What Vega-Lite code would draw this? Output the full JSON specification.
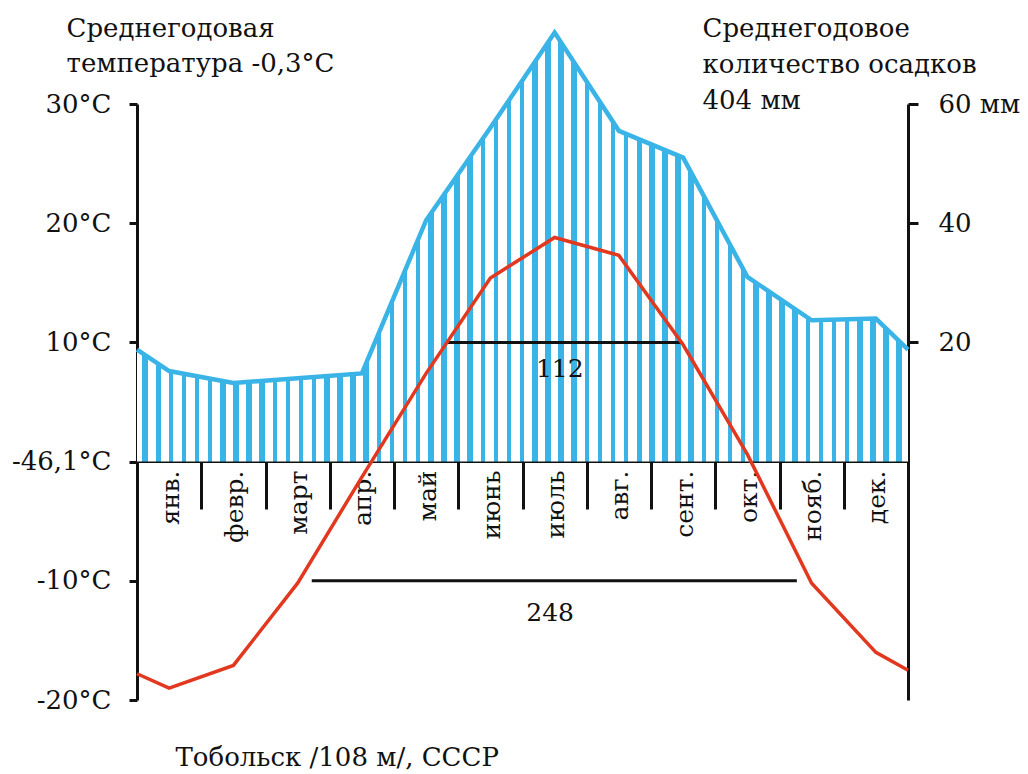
{
  "$schema": "https://vega.github.io/schema/vega-lite/v6.json",
  "width": 771,
  "height": 596,
  "autosize": {"type": "none"},
  "padding": {"left": 137, "top": 104, "right": 120, "bottom": 74},
  "background": "#ffffff",
  "config": {
    "view": {"stroke": null},
    "font": "DejaVu Serif",
    "axis": {
      "grid": false,
      "zindex": 1,
      "domainColor": "#111111",
      "domainWidth": 3,
      "tickColor": "#111111",
      "tickWidth": 3,
      "labelColor": "#111111",
      "labelFont": "DejaVu Serif",
      "titleFont": "DejaVu Serif",
      "titleColor": "#111111",
      "titleFontWeight": "normal"
    }
  },
  "datasets": {
    "temperature": [
      {"m": 0, "temp": -17.8},
      {"m": 0.5, "temp": -19.0},
      {"m": 1.5, "temp": -17.1},
      {"m": 2.5, "temp": -10.2},
      {"m": 3.5, "temp": -1.3},
      {"m": 4.5, "temp": 7.4},
      {"m": 5.5, "temp": 15.4},
      {"m": 6.5, "temp": 18.8},
      {"m": 7.5, "temp": 17.3},
      {"m": 8.5, "temp": 9.8},
      {"m": 9.5, "temp": 0.6},
      {"m": 10.5, "temp": -10.2},
      {"m": 11.5, "temp": -16.0},
      {"m": 12, "temp": -17.5}
    ],
    "precipitation": [
      {"m": 0, "precip": 18.8},
      {"m": 0.5, "precip": 15.2},
      {"m": 1.5, "precip": 13.2},
      {"m": 2.5, "precip": 14.0},
      {"m": 3.5, "precip": 14.8},
      {"m": 4.5, "precip": 40.5},
      {"m": 5.5, "precip": 56.0},
      {"m": 6.5, "precip": 72.0},
      {"m": 7.5, "precip": 55.5},
      {"m": 8.5, "precip": 51.0},
      {"m": 9.5, "precip": 31.0},
      {"m": 10.5, "precip": 23.7},
      {"m": 11.5, "precip": 24.0},
      {"m": 12, "precip": 18.8}
    ],
    "periods": [
      {"m": 4.82, "m2": 8.48, "temp": 10},
      {"m": 2.72, "m2": 10.27, "temp": -10}
    ],
    "periodLabels": [
      {"m": 6.58, "temp": 7.8, "label": "112"},
      {"m": 6.43, "temp": -12.7, "label": "248"}
    ]
  },
  "encoding": {
    "x": {
      "field": "m",
      "type": "quantitative",
      "scale": {"domain": [0, 12], "nice": false, "zero": false},
      "axis": {
        "values": [0, 1, 2, 3, 4, 5, 6, 7, 8, 9, 10, 11, 12],
        "labelExpr": "['янв.','февр.','март','апр.','май','июнь','июль','авг.','сент.','окт.','нояб.','дек.',''][datum.value]",
        "labelAngle": -90,
        "labelOffset": 33,
        "labelPadding": -39,
        "labelFontSize": 25,
        "labelOverlap": false,
        "labelFlush": false,
        "labelBound": false,
        "tickSize": 48,
        "offset": -239,
        "title": "Тобольск /108 м/, СССР",
        "titleFontSize": 26,
        "titleAlign": "left",
        "titleBaseline": "alphabetic",
        "titleAngle": 0,
        "titleX": 38,
        "titleY": 304
      }
    }
  },
  "layer": [
    {
      "encoding": {
        "y": {
          "field": "precip",
          "type": "quantitative",
          "scale": {"domain": [-40, 60], "nice": false, "zero": false},
          "axis": {
            "orient": "right",
            "values": [20, 40, 60],
            "labelExpr": "datum.value == 60 ? '60 мм' : datum.label",
            "labelFontSize": 26,
            "labelPadding": 20,
            "tickSize": 10,
            "title": ["Среднегодовое", "количество осадков", "404 мм"],
            "titleFontSize": 26,
            "titleAngle": 0,
            "titleAlign": "left",
            "titleBaseline": "alphabetic",
            "titleLineHeight": 36,
            "titleX": -206,
            "titleY": -68
          }
        }
      },
      "layer": [
        {
          "data": {"name": "precipitation"},
          "mark": {
            "type": "area",
            "color": {
              "gradient": "linear",
              "x1": 0, "y1": 0, "x2": 1, "y2": 0,
              "stops": [
                {"offset": 0, "color": "#ffffff"},
                {"offset": 0.00713, "color": "#ffffff"}, {"offset": 0.00713, "color": "#3ab4e6"}, {"offset": 0.01362, "color": "#3ab4e6"}, {"offset": 0.01362, "color": "#ffffff"},
                {"offset": 0.02400, "color": "#ffffff"}, {"offset": 0.02400, "color": "#3ab4e6"}, {"offset": 0.03048, "color": "#3ab4e6"}, {"offset": 0.03048, "color": "#ffffff"},
                {"offset": 0.04086, "color": "#ffffff"}, {"offset": 0.04086, "color": "#3ab4e6"}, {"offset": 0.04734, "color": "#3ab4e6"}, {"offset": 0.04734, "color": "#ffffff"},
                {"offset": 0.05772, "color": "#ffffff"}, {"offset": 0.05772, "color": "#3ab4e6"}, {"offset": 0.06420, "color": "#3ab4e6"}, {"offset": 0.06420, "color": "#ffffff"},
                {"offset": 0.07458, "color": "#ffffff"}, {"offset": 0.07458, "color": "#3ab4e6"}, {"offset": 0.08106, "color": "#3ab4e6"}, {"offset": 0.08106, "color": "#ffffff"},
                {"offset": 0.09144, "color": "#ffffff"}, {"offset": 0.09144, "color": "#3ab4e6"}, {"offset": 0.09792, "color": "#3ab4e6"}, {"offset": 0.09792, "color": "#ffffff"},
                {"offset": 0.10830, "color": "#ffffff"}, {"offset": 0.10830, "color": "#3ab4e6"}, {"offset": 0.11479, "color": "#3ab4e6"}, {"offset": 0.11479, "color": "#ffffff"},
                {"offset": 0.12516, "color": "#ffffff"}, {"offset": 0.12516, "color": "#3ab4e6"}, {"offset": 0.13165, "color": "#3ab4e6"}, {"offset": 0.13165, "color": "#ffffff"},
                {"offset": 0.14202, "color": "#ffffff"}, {"offset": 0.14202, "color": "#3ab4e6"}, {"offset": 0.14851, "color": "#3ab4e6"}, {"offset": 0.14851, "color": "#ffffff"},
                {"offset": 0.15888, "color": "#ffffff"}, {"offset": 0.15888, "color": "#3ab4e6"}, {"offset": 0.16537, "color": "#3ab4e6"}, {"offset": 0.16537, "color": "#ffffff"},
                {"offset": 0.17575, "color": "#ffffff"}, {"offset": 0.17575, "color": "#3ab4e6"}, {"offset": 0.18223, "color": "#3ab4e6"}, {"offset": 0.18223, "color": "#ffffff"},
                {"offset": 0.19261, "color": "#ffffff"}, {"offset": 0.19261, "color": "#3ab4e6"}, {"offset": 0.19909, "color": "#3ab4e6"}, {"offset": 0.19909, "color": "#ffffff"},
                {"offset": 0.20947, "color": "#ffffff"}, {"offset": 0.20947, "color": "#3ab4e6"}, {"offset": 0.21595, "color": "#3ab4e6"}, {"offset": 0.21595, "color": "#ffffff"},
                {"offset": 0.22633, "color": "#ffffff"}, {"offset": 0.22633, "color": "#3ab4e6"}, {"offset": 0.23281, "color": "#3ab4e6"}, {"offset": 0.23281, "color": "#ffffff"},
                {"offset": 0.24319, "color": "#ffffff"}, {"offset": 0.24319, "color": "#3ab4e6"}, {"offset": 0.24968, "color": "#3ab4e6"}, {"offset": 0.24968, "color": "#ffffff"},
                {"offset": 0.26005, "color": "#ffffff"}, {"offset": 0.26005, "color": "#3ab4e6"}, {"offset": 0.26654, "color": "#3ab4e6"}, {"offset": 0.26654, "color": "#ffffff"},
                {"offset": 0.27691, "color": "#ffffff"}, {"offset": 0.27691, "color": "#3ab4e6"}, {"offset": 0.28340, "color": "#3ab4e6"}, {"offset": 0.28340, "color": "#ffffff"},
                {"offset": 0.29377, "color": "#ffffff"}, {"offset": 0.29377, "color": "#3ab4e6"}, {"offset": 0.30026, "color": "#3ab4e6"}, {"offset": 0.30026, "color": "#ffffff"},
                {"offset": 0.31064, "color": "#ffffff"}, {"offset": 0.31064, "color": "#3ab4e6"}, {"offset": 0.31712, "color": "#3ab4e6"}, {"offset": 0.31712, "color": "#ffffff"},
                {"offset": 0.32750, "color": "#ffffff"}, {"offset": 0.32750, "color": "#3ab4e6"}, {"offset": 0.33398, "color": "#3ab4e6"}, {"offset": 0.33398, "color": "#ffffff"},
                {"offset": 0.34436, "color": "#ffffff"}, {"offset": 0.34436, "color": "#3ab4e6"}, {"offset": 0.35084, "color": "#3ab4e6"}, {"offset": 0.35084, "color": "#ffffff"},
                {"offset": 0.36122, "color": "#ffffff"}, {"offset": 0.36122, "color": "#3ab4e6"}, {"offset": 0.36770, "color": "#3ab4e6"}, {"offset": 0.36770, "color": "#ffffff"},
                {"offset": 0.37808, "color": "#ffffff"}, {"offset": 0.37808, "color": "#3ab4e6"}, {"offset": 0.38457, "color": "#3ab4e6"}, {"offset": 0.38457, "color": "#ffffff"},
                {"offset": 0.39494, "color": "#ffffff"}, {"offset": 0.39494, "color": "#3ab4e6"}, {"offset": 0.40143, "color": "#3ab4e6"}, {"offset": 0.40143, "color": "#ffffff"},
                {"offset": 0.41180, "color": "#ffffff"}, {"offset": 0.41180, "color": "#3ab4e6"}, {"offset": 0.41829, "color": "#3ab4e6"}, {"offset": 0.41829, "color": "#ffffff"},
                {"offset": 0.42866, "color": "#ffffff"}, {"offset": 0.42866, "color": "#3ab4e6"}, {"offset": 0.43515, "color": "#3ab4e6"}, {"offset": 0.43515, "color": "#ffffff"},
                {"offset": 0.44553, "color": "#ffffff"}, {"offset": 0.44553, "color": "#3ab4e6"}, {"offset": 0.45201, "color": "#3ab4e6"}, {"offset": 0.45201, "color": "#ffffff"},
                {"offset": 0.46239, "color": "#ffffff"}, {"offset": 0.46239, "color": "#3ab4e6"}, {"offset": 0.46887, "color": "#3ab4e6"}, {"offset": 0.46887, "color": "#ffffff"},
                {"offset": 0.47925, "color": "#ffffff"}, {"offset": 0.47925, "color": "#3ab4e6"}, {"offset": 0.48573, "color": "#3ab4e6"}, {"offset": 0.48573, "color": "#ffffff"},
                {"offset": 0.49611, "color": "#ffffff"}, {"offset": 0.49611, "color": "#3ab4e6"}, {"offset": 0.50259, "color": "#3ab4e6"}, {"offset": 0.50259, "color": "#ffffff"},
                {"offset": 0.51297, "color": "#ffffff"}, {"offset": 0.51297, "color": "#3ab4e6"}, {"offset": 0.51946, "color": "#3ab4e6"}, {"offset": 0.51946, "color": "#ffffff"},
                {"offset": 0.52983, "color": "#ffffff"}, {"offset": 0.52983, "color": "#3ab4e6"}, {"offset": 0.53632, "color": "#3ab4e6"}, {"offset": 0.53632, "color": "#ffffff"},
                {"offset": 0.54669, "color": "#ffffff"}, {"offset": 0.54669, "color": "#3ab4e6"}, {"offset": 0.55318, "color": "#3ab4e6"}, {"offset": 0.55318, "color": "#ffffff"},
                {"offset": 0.56355, "color": "#ffffff"}, {"offset": 0.56355, "color": "#3ab4e6"}, {"offset": 0.57004, "color": "#3ab4e6"}, {"offset": 0.57004, "color": "#ffffff"},
                {"offset": 0.58042, "color": "#ffffff"}, {"offset": 0.58042, "color": "#3ab4e6"}, {"offset": 0.58690, "color": "#3ab4e6"}, {"offset": 0.58690, "color": "#ffffff"},
                {"offset": 0.59728, "color": "#ffffff"}, {"offset": 0.59728, "color": "#3ab4e6"}, {"offset": 0.60376, "color": "#3ab4e6"}, {"offset": 0.60376, "color": "#ffffff"},
                {"offset": 0.61414, "color": "#ffffff"}, {"offset": 0.61414, "color": "#3ab4e6"}, {"offset": 0.62062, "color": "#3ab4e6"}, {"offset": 0.62062, "color": "#ffffff"},
                {"offset": 0.63100, "color": "#ffffff"}, {"offset": 0.63100, "color": "#3ab4e6"}, {"offset": 0.63748, "color": "#3ab4e6"}, {"offset": 0.63748, "color": "#ffffff"},
                {"offset": 0.64786, "color": "#ffffff"}, {"offset": 0.64786, "color": "#3ab4e6"}, {"offset": 0.65435, "color": "#3ab4e6"}, {"offset": 0.65435, "color": "#ffffff"},
                {"offset": 0.66472, "color": "#ffffff"}, {"offset": 0.66472, "color": "#3ab4e6"}, {"offset": 0.67121, "color": "#3ab4e6"}, {"offset": 0.67121, "color": "#ffffff"},
                {"offset": 0.68158, "color": "#ffffff"}, {"offset": 0.68158, "color": "#3ab4e6"}, {"offset": 0.68807, "color": "#3ab4e6"}, {"offset": 0.68807, "color": "#ffffff"},
                {"offset": 0.69844, "color": "#ffffff"}, {"offset": 0.69844, "color": "#3ab4e6"}, {"offset": 0.70493, "color": "#3ab4e6"}, {"offset": 0.70493, "color": "#ffffff"},
                {"offset": 0.71530, "color": "#ffffff"}, {"offset": 0.71530, "color": "#3ab4e6"}, {"offset": 0.72179, "color": "#3ab4e6"}, {"offset": 0.72179, "color": "#ffffff"},
                {"offset": 0.73217, "color": "#ffffff"}, {"offset": 0.73217, "color": "#3ab4e6"}, {"offset": 0.73865, "color": "#3ab4e6"}, {"offset": 0.73865, "color": "#ffffff"},
                {"offset": 0.74903, "color": "#ffffff"}, {"offset": 0.74903, "color": "#3ab4e6"}, {"offset": 0.75551, "color": "#3ab4e6"}, {"offset": 0.75551, "color": "#ffffff"},
                {"offset": 0.76589, "color": "#ffffff"}, {"offset": 0.76589, "color": "#3ab4e6"}, {"offset": 0.77237, "color": "#3ab4e6"}, {"offset": 0.77237, "color": "#ffffff"},
                {"offset": 0.78275, "color": "#ffffff"}, {"offset": 0.78275, "color": "#3ab4e6"}, {"offset": 0.78923, "color": "#3ab4e6"}, {"offset": 0.78923, "color": "#ffffff"},
                {"offset": 0.79961, "color": "#ffffff"}, {"offset": 0.79961, "color": "#3ab4e6"}, {"offset": 0.80610, "color": "#3ab4e6"}, {"offset": 0.80610, "color": "#ffffff"},
                {"offset": 0.81647, "color": "#ffffff"}, {"offset": 0.81647, "color": "#3ab4e6"}, {"offset": 0.82296, "color": "#3ab4e6"}, {"offset": 0.82296, "color": "#ffffff"},
                {"offset": 0.83333, "color": "#ffffff"}, {"offset": 0.83333, "color": "#3ab4e6"}, {"offset": 0.83982, "color": "#3ab4e6"}, {"offset": 0.83982, "color": "#ffffff"},
                {"offset": 0.85019, "color": "#ffffff"}, {"offset": 0.85019, "color": "#3ab4e6"}, {"offset": 0.85668, "color": "#3ab4e6"}, {"offset": 0.85668, "color": "#ffffff"},
                {"offset": 0.86706, "color": "#ffffff"}, {"offset": 0.86706, "color": "#3ab4e6"}, {"offset": 0.87354, "color": "#3ab4e6"}, {"offset": 0.87354, "color": "#ffffff"},
                {"offset": 0.88392, "color": "#ffffff"}, {"offset": 0.88392, "color": "#3ab4e6"}, {"offset": 0.89040, "color": "#3ab4e6"}, {"offset": 0.89040, "color": "#ffffff"},
                {"offset": 0.90078, "color": "#ffffff"}, {"offset": 0.90078, "color": "#3ab4e6"}, {"offset": 0.90726, "color": "#3ab4e6"}, {"offset": 0.90726, "color": "#ffffff"},
                {"offset": 0.91764, "color": "#ffffff"}, {"offset": 0.91764, "color": "#3ab4e6"}, {"offset": 0.92412, "color": "#3ab4e6"}, {"offset": 0.92412, "color": "#ffffff"},
                {"offset": 0.93450, "color": "#ffffff"}, {"offset": 0.93450, "color": "#3ab4e6"}, {"offset": 0.94099, "color": "#3ab4e6"}, {"offset": 0.94099, "color": "#ffffff"},
                {"offset": 0.95136, "color": "#ffffff"}, {"offset": 0.95136, "color": "#3ab4e6"}, {"offset": 0.95785, "color": "#3ab4e6"}, {"offset": 0.95785, "color": "#ffffff"},
                {"offset": 0.96822, "color": "#ffffff"}, {"offset": 0.96822, "color": "#3ab4e6"}, {"offset": 0.97471, "color": "#3ab4e6"}, {"offset": 0.97471, "color": "#ffffff"},
                {"offset": 0.98508, "color": "#ffffff"}, {"offset": 0.98508, "color": "#3ab4e6"}, {"offset": 0.99157, "color": "#3ab4e6"}, {"offset": 0.99157, "color": "#ffffff"},
                {"offset": 1, "color": "#ffffff"}
              ]
            }
          },
          "encoding": {
            "y2": {"datum": 0}
          }
        },
        {
          "data": {"name": "precipitation"},
          "mark": {"type": "line", "color": "#3ab4e6", "strokeWidth": 4.5, "strokeJoin": "miter"}
        }
      ]
    },
    {
      "encoding": {
        "y": {
          "field": "temp",
          "type": "quantitative",
          "scale": {"domain": [-20, 30], "nice": false, "zero": false},
          "axis": {
            "orient": "left",
            "values": [-20, -10, 0, 10, 20, 30],
            "labelExpr": "datum.value == 0 ? '-46,1°C' : datum.value + '°C'",
            "labelFontSize": 26,
            "labelPadding": 18,
            "tickSize": 8,
            "title": ["Среднегодовая", "температура -0,3°C"],
            "titleFontSize": 26,
            "titleAngle": 0,
            "titleAlign": "left",
            "titleBaseline": "alphabetic",
            "titleLineHeight": 35,
            "titleX": -71,
            "titleY": -68
          }
        }
      },
      "layer": [
        {
          "data": {"name": "periods"},
          "mark": {"type": "rule", "color": "#111111", "strokeWidth": 3},
          "encoding": {"x2": {"field": "m2"}}
        },
        {
          "data": {"name": "periodLabels"},
          "mark": {"type": "text", "font": "DejaVu Serif", "fontSize": 25, "color": "#111111", "align": "center", "baseline": "middle"},
          "encoding": {"text": {"field": "label"}}
        },
        {
          "data": {"name": "temperature"},
          "mark": {"type": "line", "color": "#e2381f", "strokeWidth": 3.5}
        }
      ]
    }
  ],
  "resolve": {"scale": {"y": "independent"}}
}
